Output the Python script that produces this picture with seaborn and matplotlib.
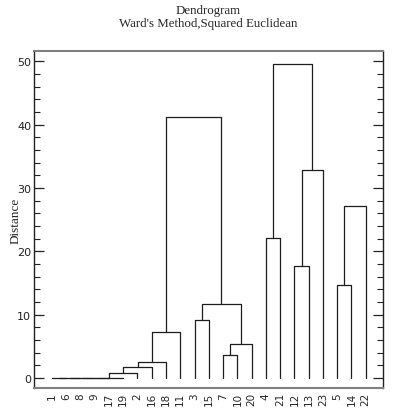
import matplotlib
matplotlib.use("Agg")
import matplotlib.pyplot as plt
import pandas as pd
import seaborn as sns
from matplotlib.ticker import MultipleLocator

# Leaves in the order they are shown along the x axis
leaf_labels = ['1', '6', '8', '9', '17', '19', '2', '16', '18', '11', '3', '15',
               '7', '10', '20', '4', '21', '12', '13', '23', '5', '14', '22']

# Merges (scipy-like ids: leaves 0..22, new clusters 23, 24, ...)
merge_left = [0, 23, 24, 25, 26, 27, 28, 29, 30, 10, 12, 33, 32, 31, 15, 17, 38, 37, 20, 41]
merge_right = [1, 2, 3, 4, 5, 6, 7, 8, 9, 11, 13, 14, 34, 35, 16, 18, 19, 39, 21, 22]
merge_height = [0, 0, 0, 0, 0, 0.8, 1.65, 2.5, 7.2, 9.2, 3.6, 5.3, 11.7, 41.2,
                22.1, 17.6, 32.9, 49.6, 14.7, 27.2]

# Build the U-shaped links from the merge table
n = len(leaf_labels)
pos = {i: float(i) for i in range(n)}
hgt = {i: 0.0 for i in range(n)}
rows = []
for k, (a, b, h) in enumerate(zip(merge_left, merge_right, merge_height)):
    xs = [pos[a], pos[a], pos[b], pos[b]]
    ys = [hgt[a], h, h, hgt[b]]
    for j, (x, y) in enumerate(zip(xs, ys)):
        rows.append({'link': k, 'step': j, 'x': x, 'y': y})
    pos[n + k] = (pos[a] + pos[b]) / 2
    hgt[n + k] = h
df = pd.DataFrame(rows)

sns.set_style("white")
plt.rcParams['font.family'] = ['DejaVu Sans']

fig = plt.figure(figsize=(4.06, 4.14), dpi=100)
ax = fig.add_axes([0.0837, 0.0604, 0.8593, 0.8136])

sns.lineplot(data=df, x='x', y='y', units='link', estimator=None, sort=False,
             color='#1e1e1e', linewidth=0.9, ax=ax, legend=False)

ax.set_xlim(-1.25, 23.2)
ax.set_ylim(-1.6, 51.6)

ax.set_xticks(range(n))
ax.set_xticklabels(leaf_labels, rotation=90, fontsize=7.5)
ax.tick_params(axis='x', length=0, pad=3)

ax.yaxis.set_major_locator(MultipleLocator(10))
ax.yaxis.set_minor_locator(MultipleLocator(2))
ax.tick_params(axis='y', which='major', direction='in', length=7, width=0.9,
               left=True, right=True, labelsize=8, pad=2, colors='#222222')
ax.tick_params(axis='y', which='minor', direction='in', length=4, width=0.8,
               left=True, right=True, colors='#222222')

for side in ['left', 'right']:
    ax.spines[side].set_color('#222222')
    ax.spines[side].set_linewidth(1.0)
for side in ['top', 'bottom']:
    ax.spines[side].set_color('#808080')
    ax.spines[side].set_linewidth(1.5)

ax.set_xlabel('')
ax.set_ylabel('Distance', family='Liberation Serif', fontsize=9.5)
ax.yaxis.label.set_va('center')
ax.yaxis.set_label_coords(-0.054, 0.5)

fig.text(0.5135, 0.973, 'Dendrogram', ha='center', va='center',
         family='Liberation Serif', fontsize=9.3)
fig.text(0.5135, 0.942, "Ward's Method,Squared Euclidean", ha='center', va='center',
         family='Liberation Serif', fontsize=9.3)

plt.savefig('out.png', dpi=100)
